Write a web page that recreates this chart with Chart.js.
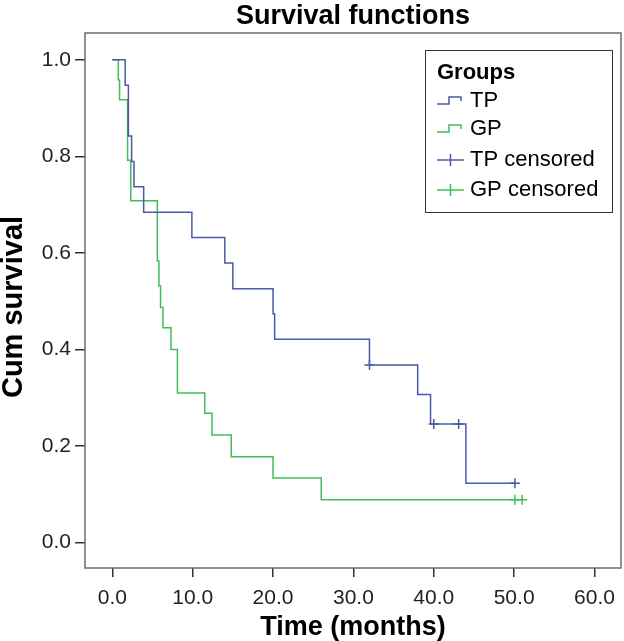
<!DOCTYPE html>
<html>
<head>
<meta charset="utf-8">
<script src="https://cdn.jsdelivr.net/npm/chart.js@4.4.0/dist/chart.umd.min.js"></script>
<style>
  html, body { margin: 0; padding: 0; background: #fff; overflow: hidden; }
  canvas { display: block; }
</style>
</head>
<body>
<canvas id="survivalChart" width="624" height="641"></canvas>
<script>
// Kaplan-Meier data (time in months, cumulative survival)
const tpTime = [0, 1.6, 2.0, 2.4, 2.7, 3.9, 9.9, 14.0, 15.0, 20.0, 20.2, 32.0, 38.0, 39.6, 44.0, 50.1];
const tpSurv = [1.0, 0.947, 0.842, 0.789, 0.737, 0.684, 0.632, 0.579, 0.526, 0.474, 0.421, 0.368, 0.307, 0.246, 0.123, 0.123];
const tpCensTime = [32.0, 40.0, 43.1, 50.1];
const tpCensSurv = [0.368, 0.246, 0.246, 0.123];

const gpTime = [0, 0.75, 0.9, 1.9, 2.3, 5.6, 5.8, 6.0, 6.3, 7.3, 8.1, 11.5, 12.4, 14.8, 20.0, 26.0, 51.0];
const gpSurv = [1.0, 0.958, 0.917, 0.792, 0.708, 0.583, 0.532, 0.487, 0.445, 0.400, 0.310, 0.268, 0.223, 0.178, 0.134, 0.089, 0.089];
const gpCensTime = [50.1, 51.0];
const gpCensSurv = [0.089, 0.089];

const xTicks = [0, 10, 20, 30, 40, 50, 60];
const yTicks = [0, 0.2, 0.4, 0.6, 0.8, 1.0];
const groupLabels = ['TP', 'GP', 'TP censored', 'GP censored'];
const chartTitle = 'Survival functions';
const yTitle = 'Cum survival';

const tpColor = '#4b5aa8';
const gpColor = '#41be57';
const FONT = '"Liberation Sans", Arial, Helvetica, sans-serif';

Chart.defaults.font.family = FONT;
Chart.defaults.color = '#111';

const toPoints = (xs, ys) => xs.map((x, i) => ({ x: x, y: ys[i] }));

// plot frame, title and y title placed like the SPSS output
const frameAndTitle = {
    id: 'frameAndTitle',
    afterDraw(chart) {
        const { ctx, chartArea: a } = chart;
        ctx.save();
        ctx.strokeStyle = '#6e6e6e';
        ctx.lineWidth = 1.5;
        ctx.strokeRect(a.left, a.top, a.right - a.left, a.bottom - a.top);
        ctx.fillStyle = '#000';
        ctx.font = 'bold 27px ' + FONT;
        ctx.textAlign = 'center';
        ctx.textBaseline = 'alphabetic';
        ctx.fillText(chartTitle, (a.left + a.right) / 2, 24);

        // rotated y title
        ctx.translate(22, 307);
        ctx.rotate(-Math.PI / 2);
        ctx.font = 'bold 29px ' + FONT;
        ctx.fillText(yTitle, 0, 0);
        ctx.restore();
    }
};

// boxed legend in the top right of the plot
const groupsLegend = {
    id: 'groupsLegend',
    afterDraw(chart) {
        const { ctx, chartArea: a } = chart;
        const bx = a.right - 196, by = a.top + 17, bw = 187, bh = 162;
        ctx.save();
        ctx.strokeStyle = '#333';
        ctx.lineWidth = 1;
        ctx.strokeRect(bx + 0.5, by + 0.5, bw, bh);

        ctx.fillStyle = '#000';
        ctx.textBaseline = 'middle';
        ctx.textAlign = 'left';
        ctx.font = 'bold 22px ' + FONT;
        ctx.fillText('Groups', bx + 12, by + 23);

        ctx.font = '22px ' + FONT;
        const rows = [by + 51, by + 79, by + 110, by + 140];
        const colors = [tpColor, gpColor, tpColor, gpColor];
        rows.forEach((ry, i) => {
            const x0 = bx + 12;
            ctx.strokeStyle = colors[i];
            ctx.lineWidth = 1.5;
            ctx.beginPath();
            if (i < 2) {
                // little step icon
                ctx.moveTo(x0, ry + 3);
                ctx.lineTo(x0 + 12, ry + 3);
                ctx.lineTo(x0 + 12, ry - 4);
                ctx.lineTo(x0 + 24, ry - 4);
                ctx.lineTo(x0 + 24, ry);
            } else {
                // cross icon
                ctx.moveTo(x0, ry);
                ctx.lineTo(x0 + 27, ry);
                ctx.moveTo(x0 + 13.5, ry - 6);
                ctx.lineTo(x0 + 13.5, ry + 6);
            }
            ctx.stroke();
            ctx.fillStyle = '#000';
            ctx.fillText(groupLabels[i], bx + 45, ry);
        });
        ctx.restore();
    }
};

const ctx = document.getElementById('survivalChart');

new Chart(ctx.getContext('2d'), {
    type: 'scatter',
    data: {
        datasets: [
            {
                label: groupLabels[0],
                data: toPoints(tpTime, tpSurv),
                showLine: true,
                stepped: true,
                borderColor: tpColor,
                borderWidth: 1.5,
                pointRadius: 0,
                fill: false
            },
            {
                label: groupLabels[1],
                data: toPoints(gpTime, gpSurv),
                showLine: true,
                stepped: true,
                borderColor: gpColor,
                borderWidth: 1.5,
                pointRadius: 0,
                fill: false
            },
            {
                label: groupLabels[2],
                data: toPoints(tpCensTime, tpCensSurv),
                showLine: false,
                pointStyle: 'cross',
                pointRadius: 5,
                borderColor: tpColor,
                borderWidth: 1.5
            },
            {
                label: groupLabels[3],
                data: toPoints(gpCensTime, gpCensSurv),
                showLine: false,
                pointStyle: 'cross',
                pointRadius: 5,
                borderColor: gpColor,
                borderWidth: 1.5
            }
        ]
    },
    options: {
        responsive: false,
        animation: false,
        layout: {
            autoPadding: false,
            padding: { top: 33, right: 3, left: 0, bottom: 0 }
        },
        plugins: {
            legend: { display: false },
            title: { display: false },
            tooltip: { enabled: false }
        },
        scales: {
            x: {
                type: 'linear',
                min: -3.4,
                max: 63.3,
                afterBuildTicks: (scale) => {
                    scale.ticks = xTicks.map(v => ({ value: v }));
                },
                afterFit: (scale) => {
                    scale.height = 73;
                    scale.paddingLeft = 0;
                    scale.paddingRight = 0;
                },
                border: { display: false },
                grid: {
                    drawOnChartArea: false,
                    drawTicks: true,
                    tickLength: 9,
                    color: '#333',
                    lineWidth: 1.5
                },
                ticks: {
                    padding: 9,
                    maxRotation: 0,
                    color: '#222',
                    font: { size: 21 },
                    callback: (v) => v.toFixed(1)
                },
                title: {
                    display: true,
                    text: 'Time (months)',
                    color: '#000',
                    padding: 0,
                    font: { size: 27, weight: 'bold', lineHeight: 1.0 }
                }
            },
            y: {
                type: 'linear',
                min: -0.0524,
                max: 1.0553,
                afterBuildTicks: (scale) => {
                    scale.ticks = yTicks.map(v => ({ value: v }));
                },
                afterFit: (scale) => {
                    scale.width = 85;
                    scale.paddingTop = 0;
                    scale.paddingBottom = 0;
                },
                border: { display: false },
                grid: {
                    drawOnChartArea: false,
                    drawTicks: true,
                    tickLength: 10,
                    color: '#333',
                    lineWidth: 1.5
                },
                ticks: {
                    padding: 4,
                    color: '#222',
                    font: { size: 21 },
                    callback: (v) => v.toFixed(1)
                }
            }
        }
    },
    plugins: [frameAndTitle, groupsLegend]
});
</script>
</body>
</html>
